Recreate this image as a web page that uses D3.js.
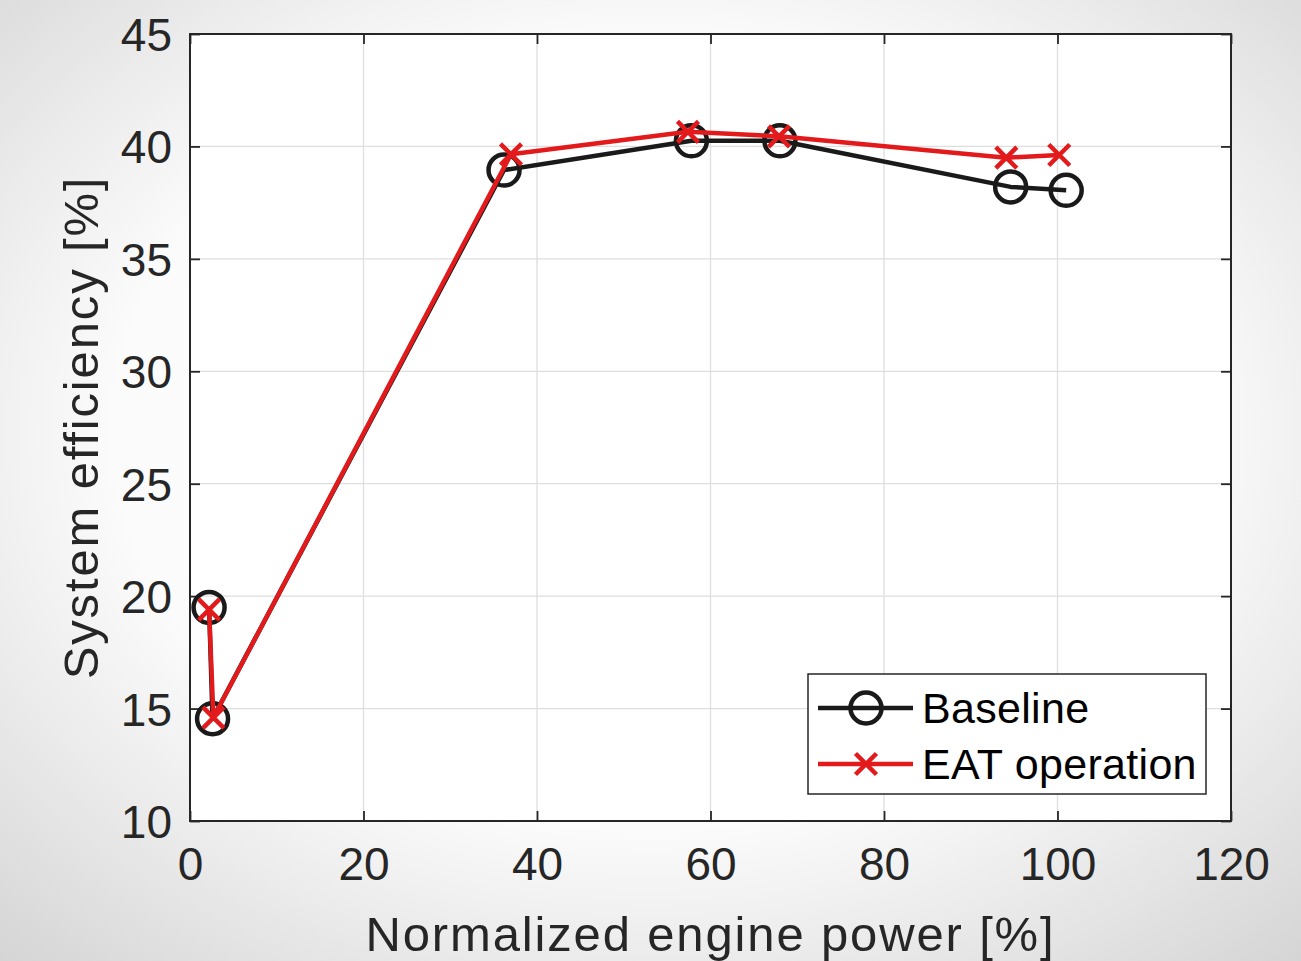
<!DOCTYPE html>
<html>
<head>
<meta charset="utf-8">
<script src="https://cdn.jsdelivr.net/npm/d3@7"></script>
<style>
  html, body { margin: 0; padding: 0; }
  body { width: 1301px; height: 961px; overflow: hidden; }
  svg { display: block; font-family: "Liberation Sans", Arial, Helvetica, sans-serif; }
</style>
</head>
<body>
<svg id="chart" width="1301" height="961"></svg>
<script>
// ---- data ----
const baselineX = [2.2, 2.6, 36.2, 57.8, 68.0, 94.6, 101.0];
const baselineY = [19.5, 14.55, 38.95, 40.25, 40.25, 38.2, 38.05];
const eatX = [2.2, 2.7, 37.0, 57.4, 67.9, 94.1, 100.2];
const eatY = [19.4, 14.6, 39.65, 40.65, 40.45, 39.5, 39.62];
const xTicks = [0, 20, 40, 60, 80, 100, 120];
const yTicks = [10, 15, 20, 25, 30, 35, 40, 45];
const seriesNames = ["Baseline", "EAT operation"];
const seriesColors = ["#1a1a1a", "#e31a1c"];
const xLabel = "Normalized engine power [%]";
const yLabel = "System efficiency [%]";

const W = 1301, H = 961;
const m = { left: 190, top: 34, right: 1231, bottom: 821 };

const svg = d3.select("#chart");

// background gradient
const defs = svg.append("defs");
const rg = defs.append("radialGradient").attr("id", "bg")
  .attr("cx", "50%").attr("cy", "45%").attr("r", "75%");
rg.append("stop").attr("offset", "0%").attr("stop-color", "#ffffff");
rg.append("stop").attr("offset", "55%").attr("stop-color", "#fbfbfb");
rg.append("stop").attr("offset", "100%").attr("stop-color", "#d4d4d4");
svg.append("rect").attr("width", W).attr("height", H).attr("fill", "url(#bg)");

const x = d3.scaleLinear().domain([0, 120]).range([m.left, m.right]);
const y = d3.scaleLinear().domain([10, 45]).range([m.bottom, m.top]);

// plot background
svg.append("rect").attr("x", m.left).attr("y", m.top)
  .attr("width", m.right - m.left).attr("height", m.bottom - m.top)
  .attr("fill", "#ffffff");

// grid
const grid = svg.append("g");
grid.selectAll("line.gx").data(xTicks.slice(1, -1)).join("line")
  .attr("x1", d => x(d)).attr("x2", d => x(d))
  .attr("y1", m.top).attr("y2", m.bottom)
  .attr("stroke", "#dedede").attr("stroke-width", 1.3);
grid.selectAll("line.gy").data(yTicks.slice(1, -1)).join("line")
  .attr("y1", d => y(d)).attr("y2", d => y(d))
  .attr("x1", m.left).attr("x2", m.right)
  .attr("stroke", "#dedede").attr("stroke-width", 1.3);

// axes
const axColor = "#262626";
const tickLen = 10;
const xAxisB = d3.axisBottom(x).tickValues(xTicks).tickSize(-tickLen).tickPadding(26).tickFormat(d3.format("d"));
const yAxisL = d3.axisLeft(y).tickValues(yTicks).tickSize(-tickLen).tickPadding(18).tickFormat(d3.format("d"));
const xAxisT = d3.axisTop(x).tickValues(xTicks).tickSize(-tickLen).tickFormat("");
const yAxisR = d3.axisRight(y).tickValues(yTicks).tickSize(-tickLen).tickFormat("");

function style(g) {
  g.select(".domain").remove();
  g.selectAll(".tick line").attr("stroke", axColor).attr("stroke-width", 1.8);
  g.selectAll(".tick text").attr("fill", axColor).attr("font-size", 46)
    .attr("font-family", "'Liberation Sans', Arial, sans-serif");
}
svg.append("g").attr("transform", `translate(0,${m.bottom})`).call(xAxisB).call(style)
  .selectAll(".tick text").attr("dy", "0.71em");
svg.append("g").attr("transform", `translate(${m.left},0)`).call(yAxisL).call(style)
  .selectAll(".tick text").attr("dy", "0.36em");
svg.append("g").attr("transform", `translate(0,${m.top})`).call(xAxisT).call(style);
svg.append("g").attr("transform", `translate(${m.right},0)`).call(yAxisR).call(style);

// frame
svg.append("rect").attr("x", m.left).attr("y", m.top)
  .attr("width", m.right - m.left).attr("height", m.bottom - m.top)
  .attr("fill", "none").attr("stroke", axColor).attr("stroke-width", 2);

// axis labels
svg.append("text").attr("x", (m.left + m.right) / 2).attr("y", 951)
  .attr("text-anchor", "middle").attr("font-size", 49).attr("letter-spacing", 1.85)
  .attr("fill", axColor).text(xLabel);
svg.append("text").attr("transform", `translate(98,${(m.top + m.bottom) / 2}) rotate(-90)`)
  .attr("text-anchor", "middle").attr("font-size", 49).attr("letter-spacing", 1.85)
  .attr("fill", axColor).text(yLabel);

// series
const series = [
  { name: seriesNames[0], color: seriesColors[0], pts: baselineX.map((v, i) => [v, baselineY[i]]), marker: "o" },
  { name: seriesNames[1], color: seriesColors[1], pts: eatX.map((v, i) => [v, eatY[i]]), marker: "x" }
];
const line = d3.line().x(d => x(d[0])).y(d => y(d[1]));

function drawMarker(g, cx, cy, s) {
  if (s.marker === "o") {
    g.append("circle").attr("cx", cx).attr("cy", cy).attr("r", 15.5)
      .attr("fill", "none").attr("stroke", s.color).attr("stroke-width", 4.5);
  } else {
    const r = 10.5;
    g.append("path").attr("d", `M${cx - r},${cy - r}L${cx + r},${cy + r}M${cx - r},${cy + r}L${cx + r},${cy - r}`)
      .attr("stroke", s.color).attr("stroke-width", 4.5).attr("fill", "none");
  }
}

series.forEach(s => {
  const g = svg.append("g");
  g.append("path").datum(s.pts).attr("d", line)
    .attr("fill", "none").attr("stroke", s.color).attr("stroke-width", 4.5)
    .attr("stroke-linejoin", "round");
  s.pts.forEach(p => drawMarker(g, x(p[0]), y(p[1]), s));
});

// legend
const lg = svg.append("g");
lg.append("rect").attr("x", 808).attr("y", 674).attr("width", 398).attr("height", 120)
  .attr("fill", "#ffffff").attr("stroke", axColor).attr("stroke-width", 1.5);
series.forEach((s, i) => {
  const yy = 708 + i * 56;
  lg.append("line").attr("x1", 818).attr("x2", 913).attr("y1", yy).attr("y2", yy)
    .attr("stroke", s.color).attr("stroke-width", 4.5);
  drawMarker(lg, 866, yy, s);
  lg.append("text").attr("x", 922).attr("y", yy).attr("dy", "0.36em")
    .attr("font-size", 43).attr("letter-spacing", 0.3).attr("fill", "#000").text(s.name);
});
</script>
</body>
</html>
